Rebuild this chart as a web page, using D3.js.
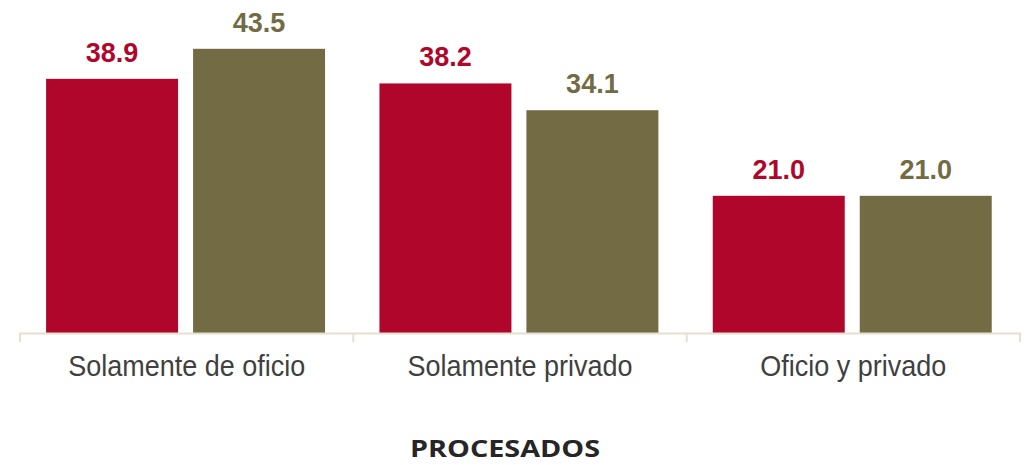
<!DOCTYPE html>
<html><head><meta charset="utf-8">
<script src="https://cdn.jsdelivr.net/npm/d3@7"></script>
<style>body{margin:0;background:#fff}svg{display:block}</style>
</head><body>
<svg id="c" width="1028" height="465"></svg>
<script>
const categories = ["Solamente de oficio", "Solamente privado", "Oficio y privado"];
const seriesNames = ["Serie A", "Serie B"];
const seriesA = [38.9, 38.2, 21.0];
const seriesB = [43.5, 34.1, 21.0];
const colors = ["#B0062C", "#736B43"];
const title = "PROCESADOS";

const svg = d3.select("#c");
const x0 = d3.scaleBand().domain(categories).range([20, 1020]).paddingInner(0).paddingOuter(0);
const x1 = d3.scaleBand().domain(seriesNames).range([0, x0.bandwidth()])
  .paddingInner(0.102).paddingOuter(0.185).align(0.48);
const y = d3.scaleLinear().domain([0, 45]).range([333, 39]);

const data = categories.map((c, i) => ({cat: c, vals: [seriesA[i], seriesB[i]]}));

const g = svg.append("g");
const groups = g.selectAll("g.grp").data(data).join("g")
  .attr("transform", d => `translate(${x0(d.cat)},0)`);
groups.selectAll("rect").data(d => d.vals.map((v, j) => ({v, j}))).join("rect")
  .attr("x", d => x1(seriesNames[d.j]))
  .attr("width", x1.bandwidth())
  .attr("y", d => y(d.v))
  .attr("height", d => y(0) - y(d.v))
  .attr("fill", d => colors[d.j]);
groups.selectAll("text.val").data(d => d.vals.map((v, j) => ({v, j}))).join("text")
  .attr("class", "val")
  .attr("x", d => x1(seriesNames[d.j]) + x1.bandwidth() / 2)
  .attr("y", d => y(d.v) - 17)
  .attr("text-anchor", "middle")
  .attr("font-family", "'Liberation Sans', Arial, sans-serif")
  .attr("font-weight", "bold")
  .attr("font-size", 27)
  .attr("fill", d => colors[d.j])
  .text(d => d.v.toFixed(1));

// axis
const axis = d3.axisBottom(x0).tickSize(0).tickPadding(0);
const ax = svg.append("g").attr("transform", `translate(0,${y(0)})`).call(axis);
ax.select(".domain").remove();
ax.selectAll(".tick line").remove();
ax.append("line").attr("x1", 20).attr("x2", 1021).attr("y1", 0.5).attr("y2", 0.5)
  .attr("stroke", "#E3E0CF").attr("stroke-width", 2);
const bounds = [...categories.map(c => x0(c)), x0.range()[1]];
ax.selectAll("line.tk").data(bounds).join("line").attr("class", "tk")
  .attr("x1", d => d).attr("x2", d => d).attr("y1", 0).attr("y2", 9)
  .attr("stroke", "#E3E0CF").attr("stroke-width", 2);
ax.selectAll(".tick text")
  .attr("y", 0).attr("dy", 0)
  .attr("transform", "translate(0,43) scale(1,1.1)")
  .attr("font-family", "'Liberation Sans', Arial, sans-serif")
  .attr("font-size", 27)
  .attr("fill", "#404040");

svg.append("text").attr("x", 505).attr("y", 457).attr("text-anchor", "middle")
  .attr("font-family", "'Open Sans', sans-serif").attr("font-weight", "bold")
  .attr("font-size", 23).attr("fill", "#262626")
  .attr("textLength", 190).attr("lengthAdjust", "spacingAndGlyphs")
  .text(title);
</script>
</body></html>
